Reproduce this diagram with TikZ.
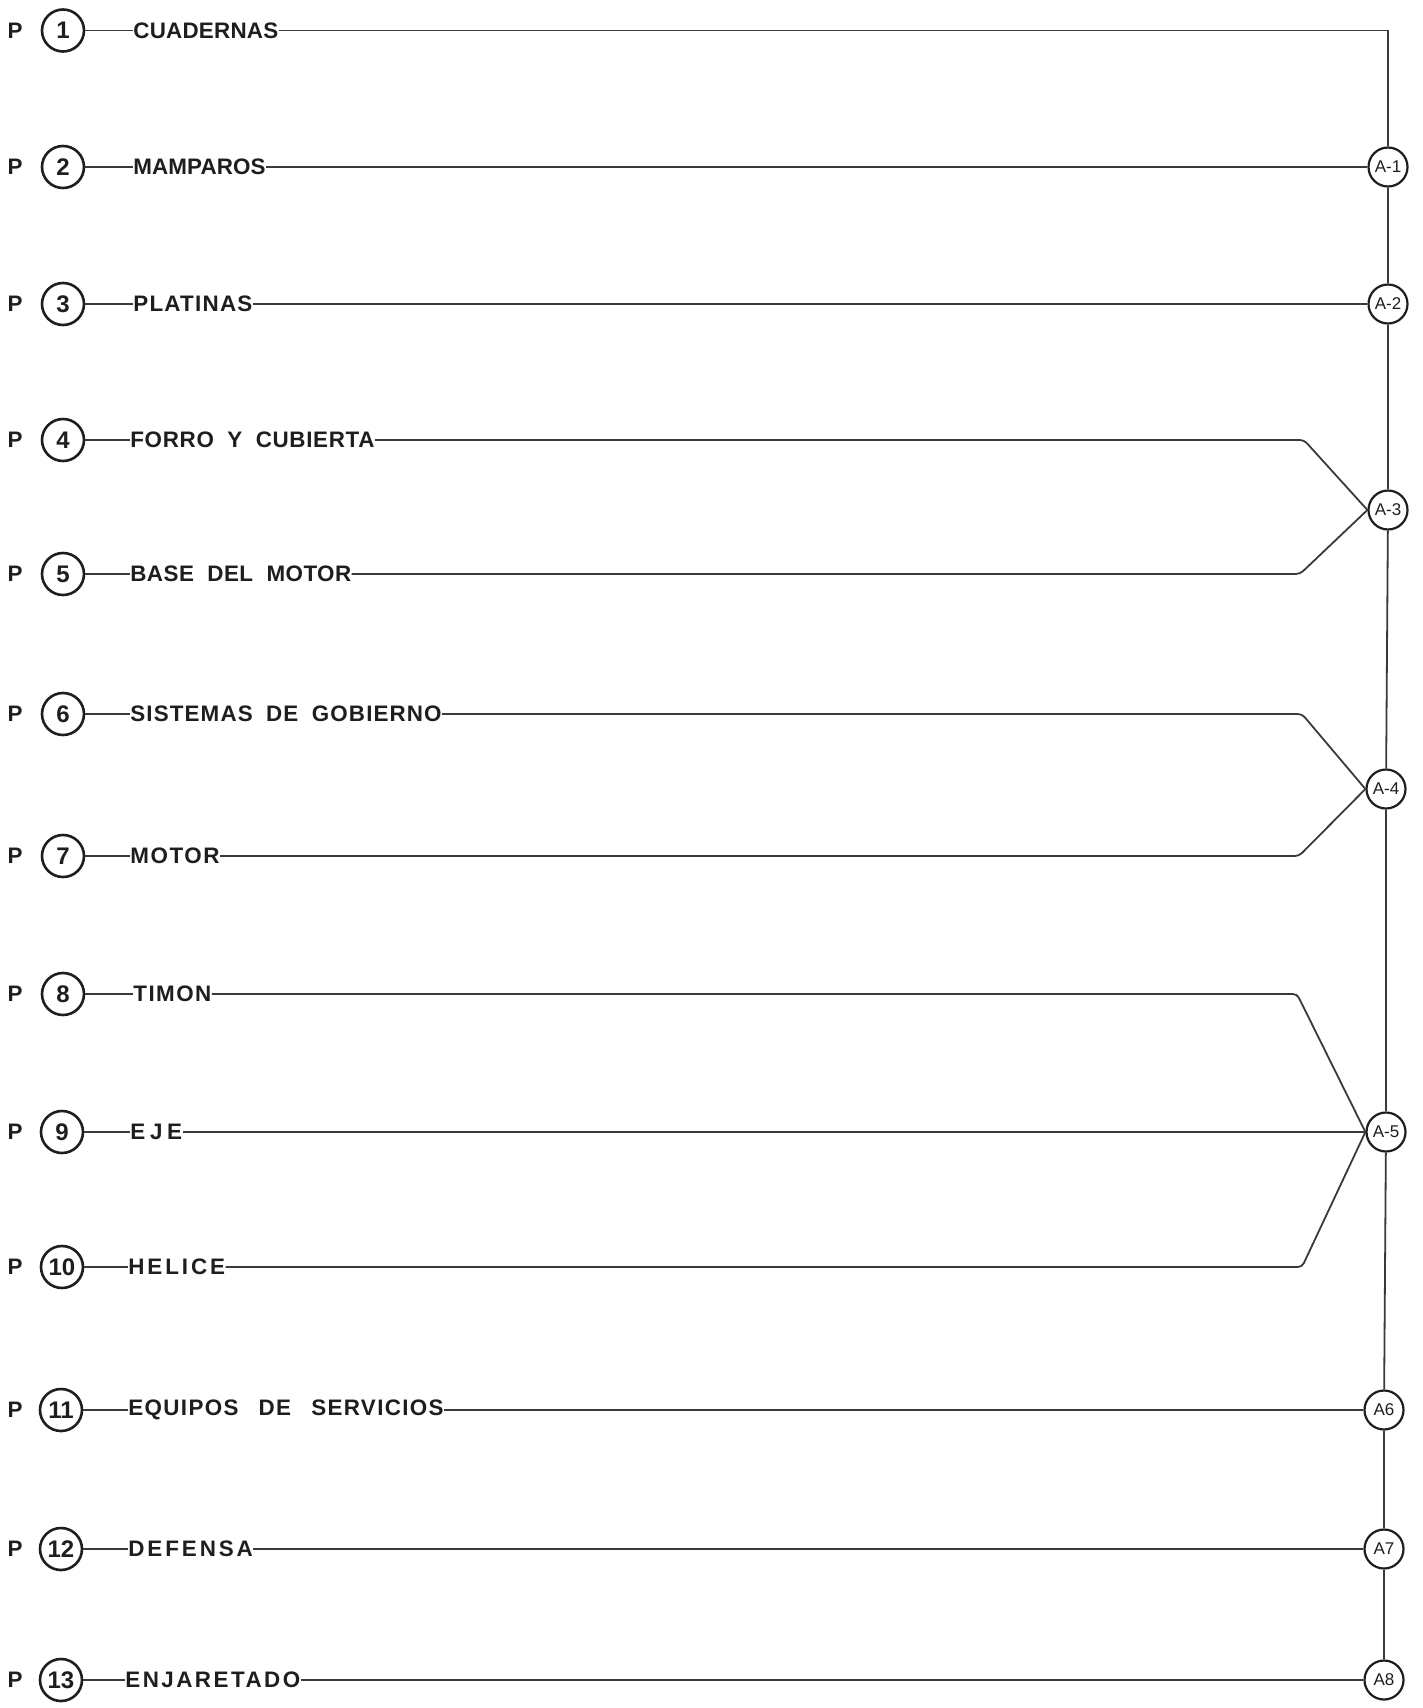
\documentclass[tikz,border=0pt]{standalone}
\usepackage{fontspec}
\setmainfont{Liberation Sans}
\definecolor{ink}{HTML}{1E1E1E}
\definecolor{lineC}{HTML}{3A3A3A}
\newcommand{\lsp}[2]{\addfontfeature{LetterSpace=#1}#2}
\newcommand{\wsp}{\hspace{0.6em}}
\newcommand{\wwsp}{\hspace{0.9em}}
\begin{document}
\begin{tikzpicture}[x=0.5pt,y=-0.5pt,
  ln/.style={draw=lineC, line width=0.9pt},
  bentln/.style={ln, rounded corners=2pt},
  pnum/.style={circle, draw=ink, line width=1.3pt, minimum size=21pt, inner sep=0pt,
    font=\bfseries\fontsize{12}{12}\selectfont, text=ink},
  pl/.style={inner sep=0pt, font=\bfseries\fontsize{11.2}{12}\selectfont, text=ink},
  lbl/.style={anchor=west, inner sep=0pt, font=\bfseries\fontsize{11.2}{13}\selectfont, text=ink},
  anode/.style={circle, draw=ink, line width=1.1pt, minimum size=19.5pt, inner sep=0pt,
    font=\fontsize{8.5}{9}\selectfont, text=ink, fill=white}]
\useasboundingbox[fill=white] (0,0) rectangle (1423,1708);

% assembly nodes
\node[anode] (A1) at (1388,167) {A-1};
\node[anode] (A2) at (1388,304) {A-2};
\node[anode] (A3) at (1388,510) {A-3};
\node[anode] (A4) at (1386,789) {A-4};
\node[anode] (A5) at (1386,1132) {A-5};
\node[anode] (A6) at (1384,1410) {A6};
\node[anode] (A7) at (1384,1549) {A7};
\node[anode] (A8) at (1384,1680) {A8};

% part rows
\node[pl] (p1) at (15,30.5) {P};
\node[pnum] (n1) at (63,30.5) {1};
\node[lbl] (l1) at (133,30.5) {\lsp{1}{CUADERNAS}};

\node[pl] (p2) at (15,167) {P};
\node[pnum] (n2) at (63,167) {2};
\node[lbl] (l2) at (133,167) {\lsp{0.5}{MAMPAROS}};

\node[pl] (p3) at (15,304) {P};
\node[pnum] (n3) at (63,304) {3};
\node[lbl] (l3) at (133,304) {\lsp{5.5}{PLATINAS}};

\node[pl] (p4) at (15,440) {P};
\node[pnum] (n4) at (63,440) {4};
\node[lbl] (l4) at (130,440) {\lsp{3}{FORRO\wsp Y\wsp CUBIERTA}};

\node[pl] (p5) at (15,574) {P};
\node[pnum] (n5) at (63,574) {5};
\node[lbl] (l5) at (130,574) {\lsp{2}{BASE\wsp DEL\wsp MOTOR}};

\node[pl] (p6) at (15,714) {P};
\node[pnum] (n6) at (63,714) {6};
\node[lbl] (l6) at (130,714) {\lsp{5}{SISTEMAS\wsp DE\wsp GOBIERNO}};

\node[pl] (p7) at (15,856) {P};
\node[pnum] (n7) at (63,856) {7};
\node[lbl] (l7) at (130,856) {\lsp{7}{MOTOR}};

\node[pl] (p8) at (15,994) {P};
\node[pnum] (n8) at (63,994) {8};
\node[lbl] (l8) at (133,994) {\lsp{6.5}{TIMON}};

\node[pl] (p9) at (15,1132) {P};
\node[pnum] (n9) at (62,1132) {9};
\node[lbl] (l9) at (130,1132) {\lsp{21}{EJE}};

\node[pl] (p10) at (15,1267) {P};
\node[pnum] (n10) at (62,1267) {10};
\node[lbl] (l10) at (128,1267) {\lsp{13}{HELICE}};

\node[pl] (p11) at (15,1410) {P};
\node[pnum] (n11) at (61,1410) {11};
\node[lbl] (l11) at (128,1410) {\lsp{6}{EQUIPOS\wwsp DE\wwsp SERVICIOS}};

\node[pl] (p12) at (15,1549) {P};
\node[pnum] (n12) at (61,1549) {12};
\node[lbl] (l12) at (128,1549) {\lsp{13}{DEFENSA}};

\node[pl] (p13) at (15,1680) {P};
\node[pnum] (n13) at (61,1680) {13};
\node[lbl] (l13) at (125,1680) {\lsp{11}{ENJARETADO}};

% bend points
\coordinate (c1) at (1388,30.5);
\coordinate (b4) at (1304,440);
\coordinate (b5) at (1300,574);
\coordinate (b6) at (1302,714);
\coordinate (b7) at (1299,856);
\coordinate (b8) at (1297,994);
\coordinate (b10) at (1302,1267);

% circle-to-label ticks
\foreach \k in {1,...,13} {\draw[ln] (n\k) -- (l\k.west);}

% connectors to assemblies
\draw[ln] (l1.east) -- (c1) -- (A1);
\draw[ln] (l2.east) -- (A1);
\draw[ln] (l3.east) -- (A2);
\draw[bentln] (l4.east) -- (b4) -- (A3.west);
\draw[bentln] (l5.east) -- (b5) -- (A3.west);
\draw[bentln] (l6.east) -- (b6) -- (A4.west);
\draw[bentln] (l7.east) -- (b7) -- (A4.west);
\draw[bentln] (l8.east) -- (b8) -- (A5.west);
\draw[ln] (l9.east) -- (A5.west);
\draw[bentln] (l10.east) -- (b10) -- (A5.west);
\draw[ln] (l11.east) -- (A6);
\draw[ln] (l12.east) -- (A7);
\draw[ln] (l13.east) -- (A8);

% assembly chain
\draw[ln] (A1) -- (A2);
\draw[ln] (A2) -- (A3);
\draw[ln] (A3) -- (A4);
\draw[ln] (A4) -- (A5);
\draw[ln] (A5) -- (A6);
\draw[ln] (A6) -- (A7);
\draw[ln] (A7) -- (A8);
\end{tikzpicture}
\end{document}
